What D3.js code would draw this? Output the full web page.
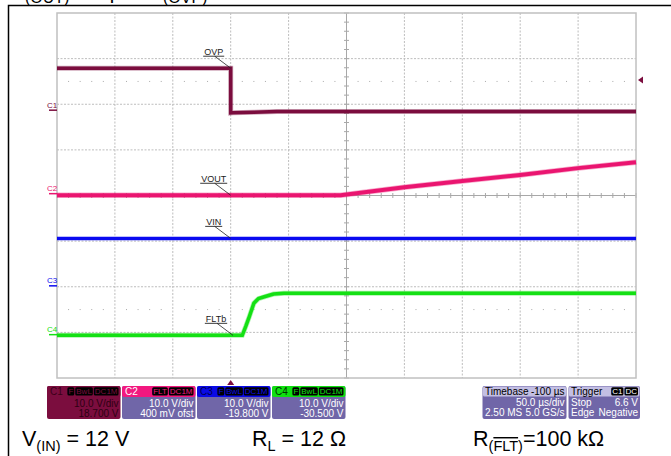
<!DOCTYPE html>
<html>
<head>
<meta charset="utf-8">
<script src="https://cdn.jsdelivr.net/npm/d3@7"></script>
<style>
  body { margin: 0; background: #fff; }
  svg { display: block; font-family: "Liberation Sans", Arial, sans-serif; }
</style>
</head>
<body>
<svg id="scope" width="671" height="456"></svg>
<script>
// time axis, 50 us/div, trigger 3 div from left
const timeDivs = [-150, -100, -50, 0, 50, 100, 150, 200, 250, 300, 350]
const voltDivs = [-4, -3, -2, -1, 0, 1, 2, 3, 4]

// channel settings
const channelIds = ['C1', 'C2', 'C3', 'C4']
const traceNames = ['OVP', 'VOUT', 'VIN', 'FLTb']
const channelColors = ['#7b0d3e', '#ea1570', '#0b0bf0', '#14e014']
const voltsPerDiv = [10, 10, 10, 10]
const offsetVolts = [18.7, 0.4, -19.8, -30.5]
const traceWidths = [3.5, 4, 3, 3.5]

// waveforms [time us, volts]
const ovp = [[-150, 9.2], [0, 9.2], [0, -0.6], [2, -0.55], [20, -0.45], [40, -0.3], [350, -0.3]]
const vout = [[-150, -0.35], [95, -0.35], [150, 1.4], [200, 2.8], [250, 4.1], [300, 5.6], [350, 6.9]]
const vin = [[-150, 10.4], [350, 10.4]]
const fltb = [[-150, -0.15], [10, -0.15], [13, 1.8], [16, 3.9], [20, 6.9], [24, 7.9], [29, 8.3], [37, 8.9], [46, 9.05], [350, 9.1]]
const traces = [ovp, vout, vin, fltb]

// annotation anchor times
const labelTimes = [0, 0, 0, 2]

// trigger
const triggerLevel = 6.6

// info box text
const chipSets = [['F', 'BwL', 'DC1M'], ['FLT', 'DC1M'], ['F', 'BwL', 'DC1M'], ['F', 'BwL', 'DC1M']]
const scaleText = ['10.0 V/div', '10.0 V/div', '10.0 V/div', '10.0 V/div']
const offsetText = ['18.700 V', '400 mV ofst', '-19.800 V', '-30.500 V']
const timebaseText = [['Timebase', '-100 µs'], ['', '50.0 µs/div'], ['2.50 MS', '5.0 GS/s']]
const triggerText = [['Trigger', ''], ['Stop', '6.6 V'], ['Edge', 'Negative']]
const triggerChips = ['C1', 'DC']

const svg = d3.select('#scope')

const x = d3.scaleLinear().domain([-150, 350]).range([57, 636])
const yDiv = d3.scaleLinear().domain([-4, 4]).range([378, 13])
const chanY = i => v => yDiv((v + offsetVolts[i]) / voltsPerDiv[i])

// outer frame + cut caption
svg.append('rect')
  .attr('x', 8.5).attr('y', 5.5).attr('width', 700).attr('height', 500)
  .attr('fill', 'none').attr('stroke', '#000').attr('stroke-width', 1.5)

const cap = svg.append('g').attr('fill', '#000')
cap.append('text').attr('x', 25).attr('y', 2.5).attr('font-size', 16).text('(OUT)')
cap.append('text').attr('x', 121).attr('y', -1).attr('font-size', 20).attr('text-anchor', 'end').text('Ramp')
cap.append('text').attr('x', 163).attr('y', 2.5).attr('font-size', 16).text('(OVP)')

// grid
const grid = svg.append('g')
grid.selectAll('line.v').data(timeDivs.slice(1, -1).filter(t => t !== 100))
  .enter().append('line')
  .attr('x1', d => x(d)).attr('x2', d => x(d))
  .attr('y1', yDiv(4)).attr('y2', yDiv(-4))
  .attr('stroke', '#bdbdbd').attr('stroke-dasharray', '2,1.5')
grid.selectAll('line.h').data(voltDivs.slice(1, -1).filter(v => v !== 0))
  .enter().append('line')
  .attr('y1', d => yDiv(d)).attr('y2', d => yDiv(d))
  .attr('x1', x(-150)).attr('x2', x(350))
  .attr('stroke', '#bdbdbd').attr('stroke-dasharray', '2,1.5')

// dotted half-division rows
const fifths = d3.range(-150, 350.1, 10)
;[2.5, -2.5].forEach(dv => {
  grid.selectAll(null).data(fifths.filter(t => t % 50 !== 0))
    .enter().append('rect')
    .attr('x', d => x(d) - 0.5).attr('y', yDiv(dv) - 0.5)
    .attr('width', 1).attr('height', 1).attr('fill', '#aaa')
})

// centre cross with minor ticks
grid.append('line').attr('x1', x(100)).attr('x2', x(100)).attr('y1', yDiv(4)).attr('y2', yDiv(-4))
  .attr('stroke', '#a8a8a8')
grid.append('line').attr('x1', x(-150)).attr('x2', x(350)).attr('y1', yDiv(0)).attr('y2', yDiv(0))
  .attr('stroke', '#a8a8a8')
grid.selectAll(null).data(fifths)
  .enter().append('line')
  .attr('x1', d => x(d)).attr('x2', d => x(d))
  .attr('y1', yDiv(0) - 2.5).attr('y2', yDiv(0) + 2.5)
  .attr('stroke', '#a8a8a8')
grid.selectAll(null).data(d3.range(-4, 4.01, 0.2))
  .enter().append('line')
  .attr('y1', d => yDiv(d)).attr('y2', d => yDiv(d))
  .attr('x1', x(100) - 2.5).attr('x2', x(100) + 2.5)
  .attr('stroke', '#a8a8a8')

grid.append('rect')
  .attr('x', x(-150)).attr('y', yDiv(4))
  .attr('width', x(350) - x(-150)).attr('height', yDiv(-4) - yDiv(4))
  .attr('fill', 'none').attr('stroke', '#c0c0c0').attr('stroke-width', 1.5)

// traces
const tracesG = svg.append('g')
traces.forEach((data, i) => {
  const line = d3.line().x(d => x(d[0])).y(d => chanY(i)(d[1]))
  tracesG.append('path').datum(data)
    .attr('d', line).attr('fill', 'none')
    .attr('stroke', channelColors[i]).attr('stroke-opacity', 0.35)
    .attr('stroke-width', traceWidths[i] + 1.5)
  tracesG.append('path').datum(data)
    .attr('d', line).attr('fill', 'none')
    .attr('stroke', channelColors[i]).attr('stroke-width', traceWidths[i])
})

// ground markers on the left
const marks = svg.append('g')
channelIds.forEach((id, i) => {
  const gy = chanY(i)(0)
  marks.append('line').attr('x1', 49).attr('x2', 57).attr('y1', gy).attr('y2', gy)
    .attr('stroke', channelColors[i]).attr('stroke-width', 1.5)
  marks.append('text').attr('x', 47).attr('y', gy - 2.5)
    .attr('font-size', 8).attr('fill', channelColors[i]).text(id)
})

// trigger level and trigger time markers
const trigY = chanY(0)(triggerLevel)
svg.append('path')
  .attr('d', `M${x(350) + 2},${trigY} l5,-3.5 v7 z`)
  .attr('fill', channelColors[0])
svg.append('path')
  .attr('d', `M${x(0)},${yDiv(-4) + 2} l3.5,5 h-7 z`)
  .attr('fill', channelColors[0])

// callouts
const callouts = svg.append('g')
traceNames.forEach((name, i) => {
  const t = labelTimes[i]
  const data = traces[i]
  const v = i === 0 ? data[0][1] : d3.scaleLinear().domain(data.map(d => d[0])).range(data.map(d => d[1]))(t)
  const px = x(t), py = chanY(i)(v)
  const tx = px - 17, ty = py - 12
  const txt = callouts.append('text').attr('x', tx).attr('y', ty - 1.5)
    .attr('font-size', 9).attr('text-anchor', 'middle').attr('fill', '#222').text(name)
  const w = txt.node().getComputedTextLength()
  callouts.append('line').attr('x1', tx - w / 2 - 1).attr('x2', tx + w / 2 + 1)
    .attr('y1', ty).attr('y2', ty).attr('stroke', '#222').attr('stroke-width', 0.9)
  callouts.append('line').attr('x1', tx + 1).attr('y1', ty)
    .attr('x2', px).attr('y2', py).attr('stroke', '#222').attr('stroke-width', 0.8)
})

// info boxes
const boxY = 386, boxH = 33, headH = 10
const info = svg.append('g').attr('font-size', 10)

function chips(g, labels, right, textColor) {
  let end = right
  labels.slice().reverse().forEach(lbl => {
    const t = g.append('text').attr('y', boxY + 8.2).attr('font-size', 8)
      .attr('fill', textColor).text(lbl)
    const w = t.node().getComputedTextLength() + 2
    g.insert('rect', 'text').attr('x', end - w).attr('y', boxY + 1.2)
      .attr('width', w).attr('height', 8.3).attr('rx', 1.5).attr('fill', '#000')
    t.attr('x', end - w + 1)
    end -= w + 1
  })
}

const headColors = ['#7b0d3e', '#f2187f', '#0a0ae6', '#10e010']
const bodyColor = '#7066a8'
channelIds.forEach((id, i) => {
  const bx = 47 + i * 75, bw = 73.5
  const g = info.append('g')
  g.append('rect').attr('x', bx).attr('y', boxY).attr('width', bw).attr('height', boxH)
    .attr('rx', 2).attr('fill', i === 0 ? channelColors[0] : bodyColor)
  g.append('rect').attr('x', bx).attr('y', boxY).attr('width', bw).attr('height', headH + 1)
    .attr('rx', 2).attr('fill', headColors[i])
  const nameFill = i === 1 ? '#fff' : i === 0 ? '#3a0018' : i === 2 ? '#000050' : '#003000'
  g.append('text').attr('x', bx + 3).attr('y', boxY + 9).attr('fill', nameFill).text(id)
  chips(g, chipSets[i], bx + bw - 2, headColors[i])
  const rowFill = i === 0 ? '#2e0012' : '#fff'
  g.append('text').attr('x', bx + bw - 2).attr('y', boxY + 21).attr('text-anchor', 'end')
    .attr('fill', rowFill).text(scaleText[i])
  g.append('text').attr('x', bx + bw - 2).attr('y', boxY + 31).attr('text-anchor', 'end')
    .attr('fill', rowFill).text(offsetText[i])
})

function statusBox(bx, bw, rows, chipLabels) {
  const g = info.append('g')
  g.append('rect').attr('x', bx).attr('y', boxY).attr('width', bw).attr('height', boxH)
    .attr('rx', 2).attr('fill', bodyColor)
  g.append('rect').attr('x', bx + 0.5).attr('y', boxY + 0.5).attr('width', bw - 1).attr('height', headH)
    .attr('rx', 1.5).attr('fill', '#c3bfe3')
  rows.forEach((r, k) => {
    const yy = boxY + 9 + k * 10.5
    const fill = k === 0 ? '#000' : '#fff'
    g.append('text').attr('x', bx + 2.5).attr('y', yy).attr('fill', fill).text(r[0])
    g.append('text').attr('x', bx + bw - 2).attr('y', yy).attr('text-anchor', 'end').attr('fill', fill).text(r[1])
  })
  if (chipLabels) chips(g, chipLabels, bx + bw - 2, '#fff')
}
statusBox(482.5, 84, timebaseText)
statusBox(568.5, 71.5, triggerText, triggerChips)

// test conditions
const cond = svg.append('g').attr('font-size', 21.5).attr('fill', '#000')
const c1 = cond.append('text').attr('x', 22).attr('y', 446)
c1.append('tspan').text('V')
c1.append('tspan').attr('font-size', 14.5).attr('dy', 5).text('(IN)')
c1.append('tspan').attr('dy', -5).text(' = 12 V')
const c2 = cond.append('text').attr('x', 252).attr('y', 446)
c2.append('tspan').text('R')
c2.append('tspan').attr('font-size', 14.5).attr('dy', 5).text('L')
c2.append('tspan').attr('dy', -5).text(' = 12 Ω')
const c3 = cond.append('text').attr('x', 473).attr('y', 446)
c3.append('tspan').text('R')
c3.append('tspan').attr('font-size', 14.5).attr('dy', 5).text('(')
c3.append('tspan').attr('font-size', 14.5).attr('text-decoration', 'overline').text('FLT')
c3.append('tspan').attr('font-size', 14.5).text(')')
c3.append('tspan').attr('dy', -5).text('=100 kΩ')
</script>
</body>
</html>
